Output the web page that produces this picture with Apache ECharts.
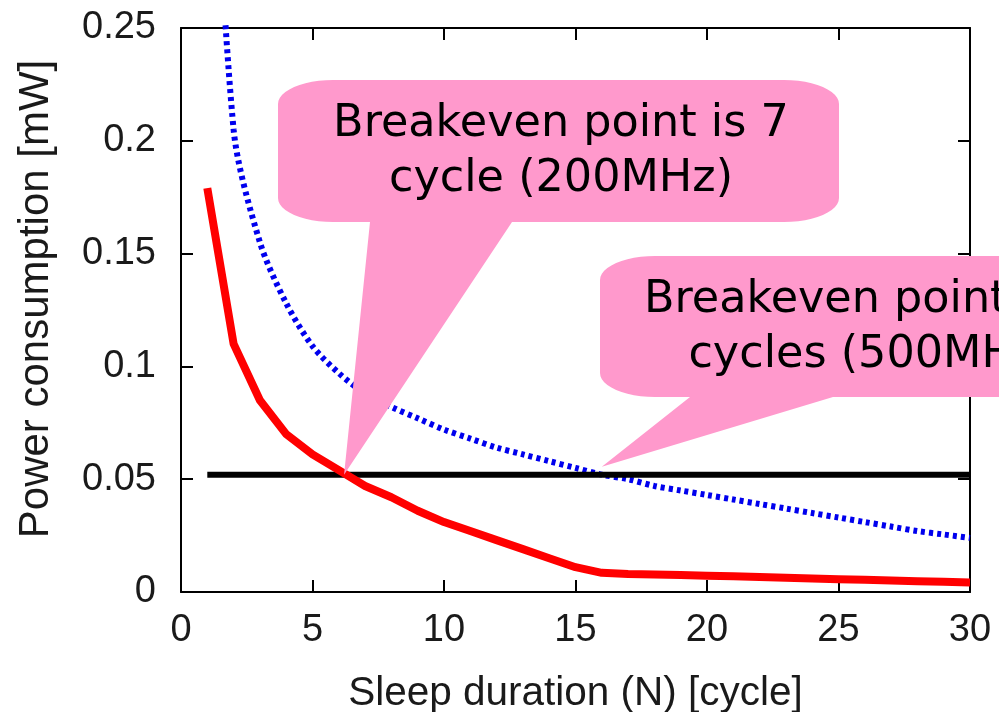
<!DOCTYPE html>
<html>
<head>
<meta charset="utf-8">
<script src="https://cdn.jsdelivr.net/npm/echarts@6/dist/echarts.min.js"></script>
<style>
  html, body { margin: 0; padding: 0; background: #fff; }
  #chart { width: 999px; height: 712px; }
</style>
</head>
<body>
<div id="chart"></div>
<script>
// sleep duration N [cycle]
const cycles = [1, 2, 3, 4, 5, 6, 7, 8, 9, 10, 11, 12, 13, 14, 15,
  16, 17, 18, 19, 20, 21, 22, 23, 24, 25, 26, 27, 28, 29, 30];
// red solid curve (200MHz)
const power200 = [0.179, 0.110, 0.085, 0.070, 0.061, 0.054, 0.047, 0.042, 0.036, 0.031,
  0.027, 0.023, 0.019, 0.015, 0.011, 0.0085, 0.008, 0.0078, 0.0075, 0.0072,
  0.007, 0.0067, 0.0063, 0.006, 0.0057, 0.0054, 0.0051, 0.0048, 0.0045, 0.0042];
// blue dotted curve (500MHz)
const power500 = [0.40, 0.205, 0.155, 0.128, 0.109, 0.097, 0.088, 0.082, 0.077, 0.072,
  0.068, 0.064, 0.061, 0.058, 0.055, 0.052, 0.050, 0.047, 0.045, 0.043,
  0.041, 0.039, 0.037, 0.035, 0.033, 0.031, 0.029, 0.027, 0.0255, 0.024];
// black flat line
const levelX = [1, 30];
const levelY = [0.052, 0.052];

const xTicks = [0, 5, 10, 15, 20, 25, 30];
const yTicks = ['0', '0.05', '0.1', '0.15', '0.2', '0.25'];

// callouts: text + point they point at (data coords)
const callout1Text = ['Breakeven point is 7', 'cycle (200MHz)'];
const callout1Point = [6.2, 0.052];
const callout2Text = ['Breakeven point is 16', 'cycles (500MHz)'];
const callout2Point = [16.0, 0.0555];

const chart = echarts.init(document.getElementById('chart'));

const axisFont = 'Liberation Sans';
const lineAxis = { onZero: false, lineStyle: { color: '#000', width: 2 } };
const tickIn = { inside: true, length: 12, lineStyle: { color: '#000', width: 2 } };

const option = {
  animation: false,
  backgroundColor: '#fff',
  grid: { left: 181, right: 29, top: 28, bottom: 120, containLabel: false, outerBoundsMode: 'none' },
  xAxis: [{
    type: 'value', min: 0, max: 30, interval: 5,
    axisLine: lineAxis, axisTick: tickIn, splitLine: { show: false },
    axisLabel: {
      margin: 20, fontSize: 38, color: '#1a1a1a', fontFamily: axisFont,
      formatter: v => String(xTicks[Math.round(v / 5)])
    },
    name: 'Sleep duration (N) [cycle]', nameLocation: 'middle', nameGap: 81,
    nameTextStyle: { fontSize: 40.5, color: '#1a1a1a', fontFamily: axisFont }
  }, {
    type: 'value', min: 0, max: 30, interval: 5, position: 'top',
    axisLine: lineAxis, axisTick: tickIn, axisLabel: { show: false }, splitLine: { show: false }
  }],
  yAxis: [{
    type: 'value', min: 0, max: 0.25, interval: 0.05,
    axisLine: lineAxis, axisTick: tickIn, splitLine: { show: false },
    axisLabel: {
      margin: 25, fontSize: 38, color: '#1a1a1a', fontFamily: axisFont,
      formatter: v => yTicks[Math.round(v / 0.05)]
    },
    name: 'Power consumption [mW]', nameLocation: 'middle', nameGap: 124,
    nameTextStyle: { fontSize: 42, color: '#1a1a1a', fontFamily: axisFont, padding: [0, 0, 0, 22] }
  }, {
    type: 'value', min: 0, max: 0.25, interval: 0.05, position: 'right',
    axisLine: lineAxis, axisTick: tickIn, axisLabel: { show: false }, splitLine: { show: false }
  }],
  series: [{
    name: '500MHz', type: 'line', showSymbol: false, z: 2, smooth: 0.3,
    data: cycles.map((n, i) => [n, power500[i]]),
    lineStyle: { color: '#0000ee', width: 6, type: [4, 4] }
  }, {
    name: 'level', type: 'line', showSymbol: false, z: 3,
    data: levelX.map((n, i) => [n, levelY[i]]),
    lineStyle: { color: '#000', width: 6 }
  }, {
    name: '200MHz', type: 'line', showSymbol: false, z: 4,
    data: cycles.map((n, i) => [n, power200[i]]),
    lineStyle: { color: '#ff0000', width: 8, join: 'round' }
  }]
};
chart.setOption(option);

// speech bubble outline: box with elliptical corners and a wedge to the apex
function bubblePoints(x0, y0, x1, y1, rx, ry, b0, b1, apex) {
  const pts = [];
  const corner = (cx, cy, a0, a1) => {
    for (let s = 0; s <= 12; s++) {
      const a = a0 + (a1 - a0) * s / 12;
      pts.push([cx + rx * Math.cos(a), cy + ry * Math.sin(a)]);
    }
  };
  corner(x1 - rx, y0 + ry, -Math.PI / 2, 0);
  corner(x1 - rx, y1 - ry, 0, Math.PI / 2);
  pts.push([b1, y1], apex, [b0, y1]);
  corner(x0 + rx, y1 - ry, Math.PI / 2, Math.PI);
  corner(x0 + rx, y0 + ry, Math.PI, Math.PI * 1.5);
  return pts;
}

const p1 = chart.convertToPixel({ xAxisIndex: 0, yAxisIndex: 0 }, callout1Point);
const p2 = chart.convertToPixel({ xAxisIndex: 0, yAxisIndex: 0 }, callout2Point);
const pink = '#ff99cc';
const calloutFont = '44.5px "DejaVu Sans"';

function textLine(txt, cx, cy) {
  return {
    type: 'text', z: 101,
    style: { text: txt, x: cx, y: cy, align: 'center', verticalAlign: 'middle', font: calloutFont, fill: '#000' }
  };
}

chart.setOption({
  graphic: [
    { type: 'polygon', z: 100, shape: { points: bubblePoints(278, 80, 839, 222, 55, 24, 370, 512, p1) }, style: { fill: pink } },
    textLine(callout1Text[0], 561, 124),
    textLine(callout1Text[1], 561, 179),
    { type: 'polygon', z: 100, shape: { points: bubblePoints(600, 256, 1161, 397, 55, 24, 690, 833, p2) }, style: { fill: pink } },
    textLine(callout2Text[0], 886, 300),
    textLine(callout2Text[1], 872, 355)
  ]
});
</script>
</body>
</html>
